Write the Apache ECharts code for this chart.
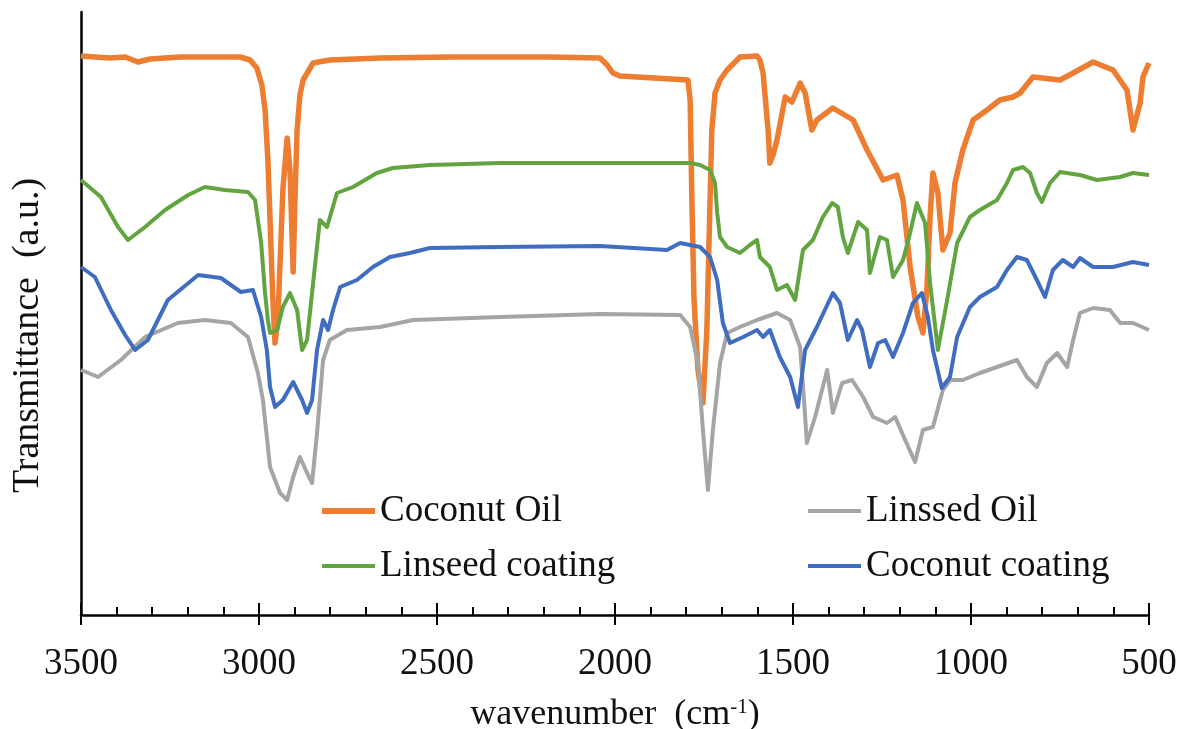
<!DOCTYPE html>
<html>
<head>
<meta charset="utf-8">
<script src="https://cdn.jsdelivr.net/npm/echarts@6/dist/echarts.min.js"></script>
<style>
  html, body { margin: 0; padding: 0; background: #fff; }
  #ftir { width: 1178px; height: 729px; }
</style>
</head>
<body>
<div id="ftir"></div>
<script>
// FTIR spectra, [wavenumber cm-1, transmittance a.u.]
var coconutOil = [
  [3500,55.9],[3461,55.8],[3419,55.7],[3376,55.8],[3340,55.3],[3306,55.6],[3222,55.8],[3138,55.8],
  [3053,55.8],[3025,55.5],[3006,54.7],[2992,53.0],[2983,50.5],[2975,45.5],[2969,39.5],[2961,31.5],
  [2955,27.2],[2947,29.5],[2933,42.5],[2921,47.7],[2913,44.5],[2904,34.3],[2899,41.5],[2893,48.5],
  [2885,52.0],[2876,53.5],[2848,55.2],[2801,55.5],[2660,55.7],[2463,55.8],[2323,55.8],[2183,55.8],
  [2042,55.7],[2022,55.0],[2006,54.2],[1986,53.9],[1795,53.5],[1789,51.5],[1784,41.5],[1778,31.5],
  [1767,24.5],[1753,21.2],[1742,28.5],[1733,41.5],[1728,48.5],[1719,52.2],[1705,53.5],[1685,54.5],
  [1649,55.8],[1601,55.9],[1593,55.5],[1584,54.2],[1570,48.5],[1565,45.2],[1556,46.0],[1545,47.5],
  [1522,51.8],[1503,51.3],[1480,53.2],[1466,52.2],[1447,48.5],[1433,49.5],[1388,50.7],[1331,49.5],
  [1292,46.5],[1247,43.5],[1208,44.0],[1191,41.5],[1171,34.8],[1149,29.8],[1135,28.2],[1124,32.5],
  [1115,39.8],[1107,44.2],[1093,42.2],[1079,36.5],[1059,38.2],[1045,43.2],[1023,46.5],[994,49.5],
  [955,50.5],[919,51.5],[882,51.8],[862,52.2],[826,53.8],[750,53.5],[713,54.2],[657,55.3],
  [601,54.5],[562,52.5],[545,48.5],[525,51.2],[517,53.8],[500,55.2]
];
var linssedOil = [
  [3500,24.5],[3452,23.8],[3388,25.5],[3320,27.8],[3228,29.2],[3152,29.5],[3079,29.2],[3031,27.8],
  [3003,24.2],[2989,21.5],[2969,14.8],[2941,12.2],[2921,11.5],[2904,13.8],[2885,15.8],[2865,14.2],
  [2851,13.2],[2837,18.2],[2820,25.5],[2801,27.5],[2753,28.5],[2660,28.8],[2567,29.5],[2323,29.8],
  [2042,30.1],[1817,30.0],[1789,28.8],[1767,25.2],[1753,18.5],[1739,12.5],[1725,18.5],[1705,25.2],
  [1685,28.2],[1649,28.8],[1601,29.5],[1545,30.2],[1508,29.5],[1480,26.8],[1469,21.5],[1461,17.2],
  [1438,19.8],[1404,24.5],[1388,20.2],[1362,23.2],[1334,23.5],[1303,21.8],[1275,19.8],[1236,19.2],
  [1213,19.8],[1185,17.5],[1157,15.3],[1135,18.5],[1107,18.8],[1079,22.5],[1059,23.5],[1023,23.5],
  [975,24.2],[927,24.8],[871,25.5],[843,23.8],[815,22.8],[787,25.2],[758,26.2],[730,24.8],
  [713,27.5],[694,30.2],[657,30.7],[610,30.5],[581,29.2],[545,29.2],[500,28.5]
];
var linseedCoating = [
  [3500,43.5],[3444,41.8],[3396,38.8],[3368,37.5],[3320,38.8],[3264,40.5],[3199,42.0],[3152,42.8],
  [3096,42.5],[3031,42.3],[3011,41.5],[2994,37.2],[2983,32.2],[2975,29.5],[2969,28.2],[2949,28.5],
  [2933,30.8],[2913,32.2],[2893,30.5],[2879,26.5],[2865,27.5],[2848,33.2],[2829,39.5],[2809,38.8],
  [2795,40.5],[2781,42.2],[2736,42.8],[2669,44.2],[2624,44.7],[2520,45.0],[2323,45.2],[2042,45.2],
  [1789,45.2],[1761,45.0],[1733,44.5],[1719,43.2],[1713,40.2],[1705,37.8],[1685,36.8],[1649,36.2],
  [1621,37.0],[1601,37.5],[1593,35.8],[1565,34.8],[1545,32.5],[1517,33.0],[1494,31.5],[1472,36.5],
  [1444,37.5],[1416,39.8],[1390,41.2],[1374,40.8],[1360,37.8],[1346,36.2],[1317,39.3],[1292,38.5],
  [1284,34.2],[1256,37.8],[1236,37.5],[1219,33.8],[1191,35.5],[1171,38.2],[1152,41.2],[1129,39.2],
  [1115,33.2],[1093,26.5],[1067,31.5],[1039,37.2],[1003,39.8],[975,40.5],[927,41.5],[899,43.2],
  [882,44.5],[854,44.8],[834,44.2],[815,42.2],[801,41.3],[778,43.2],[750,44.3],[694,44.0],
  [646,43.5],[581,43.8],[545,44.2],[500,44.0]
];
var coconutCoating = [
  [3500,34.8],[3461,33.8],[3416,30.5],[3376,28.0],[3348,26.5],[3312,27.5],[3256,31.5],[3171,34.0],
  [3107,33.7],[3051,32.3],[3017,32.5],[2994,29.8],[2978,26.5],[2969,22.8],[2955,20.8],[2933,21.5],
  [2904,23.3],[2879,21.5],[2865,20.2],[2851,21.5],[2837,26.5],[2820,29.5],[2806,28.5],[2792,30.5],
  [2772,32.8],[2725,33.5],[2680,34.8],[2632,35.8],[2576,36.2],[2520,36.7],[2323,36.8],[2042,36.9],
  [1854,36.5],[1817,37.2],[1761,36.8],[1733,35.8],[1713,33.5],[1697,29.2],[1677,27.2],[1640,27.8],
  [1601,28.5],[1584,27.8],[1565,28.5],[1537,25.8],[1508,23.8],[1486,20.8],[1466,26.5],[1433,28.8],
  [1388,32.2],[1368,31.2],[1346,27.5],[1320,29.5],[1306,28.5],[1284,24.8],[1261,27.2],[1241,27.5],
  [1219,25.8],[1191,28.2],[1163,31.2],[1138,32.2],[1121,29.8],[1107,26.5],[1082,22.7],[1059,23.8],
  [1039,27.8],[1003,30.8],[975,31.8],[927,32.8],[899,34.5],[871,35.8],[843,35.5],[815,33.5],
  [792,31.8],[770,34.5],[742,35.5],[713,34.8],[694,35.7],[657,34.8],[601,34.8],[545,35.3],[500,35.0]
];

var seriesNames = ['Coconut Oil', 'Linssed Oil', 'Linseed coating', 'Coconut coating'];
var seriesColors = ['#ED7D31', '#A5A5A5', '#62A43F', '#3F6DC2'];
var xMin = 500, xMax = 3500, xStep = 500;

var serif = 'Liberation Serif, Times New Roman, serif';
var txt = '#111';

function makeLine(i, data, width) {
  return {
    name: seriesNames[i],
    type: 'line',
    data: data,
    symbol: 'none',
    xAxisIndex: 0,
    lineStyle: { color: seriesColors[i], width: width, join: 'round' },
    itemStyle: { color: seriesColors[i] }
  };
}

// one legend per entry so each keeps its own line thickness
function makeLegend(i, left, top, thick) {
  return {
    left: left, top: top, padding: 0,
    icon: 'rect', itemWidth: 53, itemHeight: thick,
    data: [seriesNames[i]],
    textStyle: { fontFamily: serif, fontSize: 37, color: txt, lineHeight: 38 }
  };
}

var option = {
  animation: false,
  grid: { left: 81, right: 29, top: 12, bottom: 114, containLabel: false, outerBoundsMode: 'none' },
  legend: [
    makeLegend(0, 322, 492, 6),
    makeLegend(1, 808, 492, 4),
    makeLegend(2, 322, 547, 4),
    makeLegend(3, 808, 547, 4)
  ],
  xAxis: [
    {
      type: 'value', inverse: true, min: xMin, max: xMax, interval: xStep,
      name: '{a|wavenumber  (cm}{s|-1}{a|)}',
      nameLocation: 'middle', nameGap: 82,
      nameTextStyle: {
        rich: {
          a: { fontFamily: serif, fontSize: 36, color: txt },
          s: { fontFamily: serif, fontSize: 21, color: txt, verticalAlign: 'top', padding: [0, 0, 15, 0] }
        }
      },
      axisLine: { lineStyle: { color: '#000', width: 2.5 } },
      axisTick: { inside: true, length: 12, lineStyle: { color: '#000', width: 2 } },
      minorTick: { show: true, splitNumber: 5, length: 8, lineStyle: { color: '#000', width: 2 } },
      axisLabel: {
        fontFamily: serif, fontSize: 37, color: txt, margin: 31,
        formatter: function (v) { return String(v); }
      },
      splitLine: { show: false }
    },
    {
      type: 'value', inverse: true, min: xMin, max: xMax, interval: xStep,
      position: 'bottom',
      axisLine: { show: false },
      axisTick: { inside: false, length: 10, lineStyle: { color: '#000', width: 2 } },
      axisLabel: { show: false },
      splitLine: { show: false }
    }
  ],
  yAxis: {
    type: 'value', min: 0, max: 60.3,
    name: 'Transmittance  (a.u.)',
    nameLocation: 'middle', nameGap: 34,
    nameTextStyle: { fontFamily: serif, fontSize: 38, color: txt, padding: [0, 44, 0, 0] },
    axisLine: { show: true, lineStyle: { color: '#000', width: 2.5 } },
    axisTick: { show: false },
    axisLabel: { show: false },
    splitLine: { show: false }
  },
  series: [
    makeLine(0, coconutOil, 5.5),
    makeLine(1, linssedOil, 4),
    makeLine(2, linseedCoating, 4),
    makeLine(3, coconutCoating, 4)
  ]
};

var chart = echarts.init(document.getElementById('ftir'));
chart.setOption(option);
</script>
</body>
</html>
